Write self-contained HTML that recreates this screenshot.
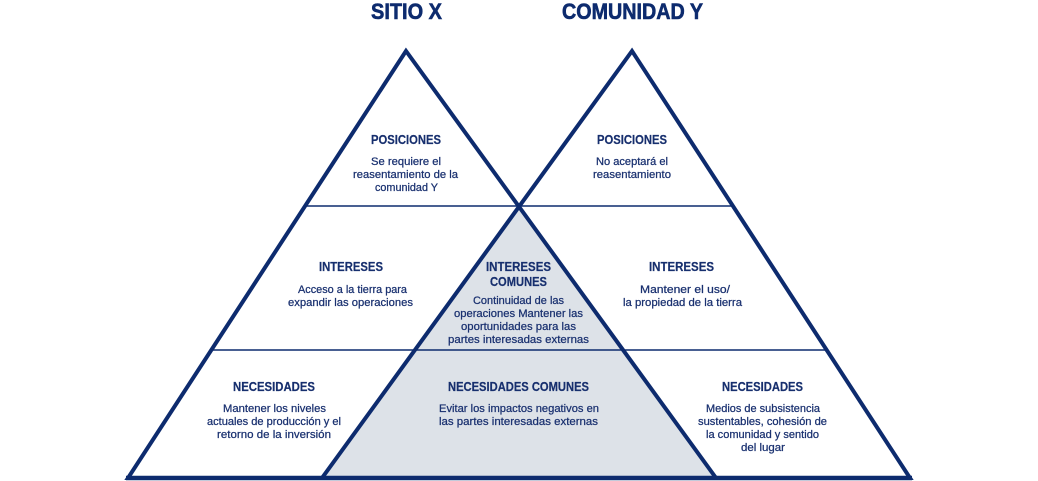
<!DOCTYPE html>
<html>
<head>
<meta charset="utf-8">
<style>
  html,body{margin:0;padding:0;background:#fff;}
  svg{display:block;}
  .t{font-family:"Liberation Sans",sans-serif;font-weight:bold;font-size:22px;fill:#0d2b6e;stroke:#0d2b6e;stroke-width:0.6px;}
  .h{font-family:"Liberation Sans",sans-serif;font-weight:bold;font-size:12.5px;fill:#172f6e;stroke:#172f6e;stroke-width:0.2px;}
  .b{font-family:"Liberation Sans",sans-serif;font-size:11px;fill:#1a3170;stroke:#1a3170;stroke-width:0.25px;}
</style>
</head>
<body>
<svg width="1038" height="481" viewBox="0 0 1038 481" xmlns="http://www.w3.org/2000/svg">
  <!-- gray common area -->
  <polygon points="519,206.6 322,478 716,478" fill="#dde2e8"/>
  <!-- horizontal dividers -->
  <line x1="305" y1="206" x2="733" y2="206" stroke="#0d2b6e" stroke-width="1.6"/>
  <line x1="211" y1="350" x2="827" y2="350" stroke="#0d2b6e" stroke-width="1.6"/>
  <!-- triangles -->
  <polygon points="406,51 128,478 716,478" fill="none" stroke="#0d2b6e" stroke-width="4" stroke-linejoin="miter"/>
  <polygon points="632,51 322,478 910,478" fill="none" stroke="#0d2b6e" stroke-width="4" stroke-linejoin="miter"/>
  <line x1="126" y1="478" x2="912" y2="478" stroke="#0d2b6e" stroke-width="4.5"/>

  <!-- titles -->
  <text class="t" x="371" y="19" textLength="71" lengthAdjust="spacingAndGlyphs">SITIO X</text>
  <text class="t" x="562" y="19" textLength="141" lengthAdjust="spacingAndGlyphs">COMUNIDAD Y</text>

  <!-- left posiciones -->
  <text class="h" x="371" y="144" textLength="70" lengthAdjust="spacingAndGlyphs">POSICIONES</text>
  <text class="b" x="371" y="165" textLength="70" lengthAdjust="spacingAndGlyphs">Se requiere el</text>
  <text class="b" x="353" y="178" textLength="105" lengthAdjust="spacingAndGlyphs">reasentamiento de la</text>
  <text class="b" x="375" y="191" textLength="63" lengthAdjust="spacingAndGlyphs">comunidad Y</text>

  <!-- right posiciones -->
  <text class="h" x="597" y="144" textLength="70" lengthAdjust="spacingAndGlyphs">POSICIONES</text>
  <text class="b" x="596" y="165" textLength="72" lengthAdjust="spacingAndGlyphs">No aceptará el</text>
  <text class="b" x="593" y="178" textLength="78" lengthAdjust="spacingAndGlyphs">reasentamiento</text>

  <!-- left intereses -->
  <text class="h" x="319" y="271" textLength="64" lengthAdjust="spacingAndGlyphs">INTERESES</text>
  <text class="b" x="298" y="293" textLength="109" lengthAdjust="spacingAndGlyphs">Acceso a la tierra para</text>
  <text class="b" x="288" y="306" textLength="125" lengthAdjust="spacingAndGlyphs">expandir las operaciones</text>

  <!-- common intereses -->
  <text class="h" x="486" y="271" textLength="65" lengthAdjust="spacingAndGlyphs">INTERESES</text>
  <text class="h" x="490" y="286" textLength="57" lengthAdjust="spacingAndGlyphs">COMUNES</text>
  <text class="b" x="473" y="304" textLength="91" lengthAdjust="spacingAndGlyphs">Continuidad de las</text>
  <text class="b" x="454" y="317" textLength="129" lengthAdjust="spacingAndGlyphs">operaciones Mantener las</text>
  <text class="b" x="461" y="330" textLength="115" lengthAdjust="spacingAndGlyphs">oportunidades para las</text>
  <text class="b" x="448" y="343" textLength="141" lengthAdjust="spacingAndGlyphs">partes interesadas externas</text>

  <!-- right intereses -->
  <text class="h" x="649" y="271" textLength="65" lengthAdjust="spacingAndGlyphs">INTERESES</text>
  <text class="b" x="640" y="293" textLength="90" lengthAdjust="spacingAndGlyphs">Mantener el uso/</text>
  <text class="b" x="623" y="306" textLength="119" lengthAdjust="spacingAndGlyphs">la propiedad de la tierra</text>

  <!-- left necesidades -->
  <text class="h" x="233" y="391" textLength="82" lengthAdjust="spacingAndGlyphs">NECESIDADES</text>
  <text class="b" x="223" y="412" textLength="103" lengthAdjust="spacingAndGlyphs">Mantener los niveles</text>
  <text class="b" x="207" y="425" textLength="134" lengthAdjust="spacingAndGlyphs">actuales de producción y el</text>
  <text class="b" x="217" y="438" textLength="114" lengthAdjust="spacingAndGlyphs">retorno de la inversión</text>

  <!-- common necesidades -->
  <text class="h" x="448" y="391" textLength="141" lengthAdjust="spacingAndGlyphs">NECESIDADES COMUNES</text>
  <text class="b" x="439" y="412" textLength="160" lengthAdjust="spacingAndGlyphs">Evitar los impactos negativos en</text>
  <text class="b" x="439" y="425" textLength="159" lengthAdjust="spacingAndGlyphs">las partes interesadas externas</text>

  <!-- right necesidades -->
  <text class="h" x="722" y="391" textLength="81" lengthAdjust="spacingAndGlyphs">NECESIDADES</text>
  <text class="b" x="706" y="412" textLength="114" lengthAdjust="spacingAndGlyphs">Medios de subsistencia</text>
  <text class="b" x="698" y="425" textLength="129" lengthAdjust="spacingAndGlyphs">sustentables, cohesión de</text>
  <text class="b" x="706" y="438" textLength="113" lengthAdjust="spacingAndGlyphs">la comunidad y sentido</text>
  <text class="b" x="741" y="451" textLength="44" lengthAdjust="spacingAndGlyphs">del lugar</text>
</svg>
</body>
</html>
